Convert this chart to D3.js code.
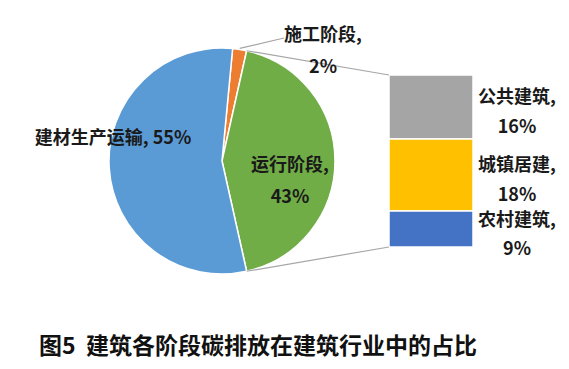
<!DOCTYPE html>
<html><head><meta charset="utf-8">
<script src="https://cdn.jsdelivr.net/npm/d3@7"></script>
<style>
html,body{margin:0;padding:0;background:#fff;}
svg{display:block;font-family:"Noto Sans CJK SC","Noto Sans",sans-serif;}
</style></head>
<body>
<svg id="c" width="569" height="369"></svg>
<script>
// ---- data ----
const pieCategories = ["施工阶段", "运行阶段", "建材生产运输"];
const pieValues = [2, 43, 55];
const pieColors = ["#ED7D31", "#70AD47", "#5B9BD5"];
const barCategories = ["公共建筑", "城镇居建", "农村建筑"];
const barValues = [16, 18, 9];
const barColors = ["#A5A5A5", "#FFC000", "#4472C4"];
const title = "图5  建筑各阶段碳排放在建筑行业中的占比";

const svg = d3.select("#c");
const cx = 222, cy = 161, r = 113;
const total = d3.sum(pieValues);
const splitIdx = 1; // slice expanded into the bar
// rotate so the split slice is centred facing the bar (right side)
const before = d3.sum(pieValues.slice(0, splitIdx));
const startA = Math.PI / 2 - (pieValues[splitIdx] / total) * Math.PI - (before / total) * 2 * Math.PI;

const pie = d3.pie().sort(null).value(d => d).startAngle(startA).endAngle(startA + 2 * Math.PI);
const arcs = pie(pieValues);
const arc = d3.arc().innerRadius(0).outerRadius(r);

const g = svg.append("g").attr("transform", `translate(${cx},${cy})`);
g.selectAll("path").data(arcs).join("path")
  .attr("d", arc)
  .attr("fill", (d, i) => pieColors[i])
  .attr("stroke", "#fff").attr("stroke-width", 1.5);

// bar (stacked)
const barX = 389, barW = 84, barTop = 75, barBottom = 247;
const y = d3.scaleLinear().domain([0, d3.sum(barValues)]).range([barTop, barBottom]);
const cum = d3.cumsum([0, ...barValues]);
svg.append("g").selectAll("rect").data(barValues).join("rect")
  .attr("x", barX).attr("width", barW)
  .attr("y", (d, i) => y(cum[i]))
  .attr("height", (d, i) => y(cum[i + 1]) - y(cum[i]))
  .attr("fill", (d, i) => barColors[i])
  .attr("stroke", "#fff").attr("stroke-width", 1.5);

// connector lines
const sa = arcs[splitIdx];
const pt = a => [cx + r * Math.sin(a), cy - r * Math.cos(a)];
const p1 = pt(sa.startAngle), p2 = pt(sa.endAngle);
svg.append("line").attr("x1", p1[0]).attr("y1", p1[1]).attr("x2", barX).attr("y2", barTop)
  .attr("stroke", "#A6A6A6").attr("stroke-width", 1.2);
svg.append("line").attr("x1", p2[0]).attr("y1", p2[1]).attr("x2", barX).attr("y2", barBottom)
  .attr("stroke", "#A6A6A6").attr("stroke-width", 1.2);

// leader for small slice
const a0 = arcs[0];
const lp = pt((a0.startAngle + a0.endAngle) / 2);
svg.append("line").attr("x1", lp[0]).attr("y1", lp[1] - 1).attr("x2", 284).attr("y2", 38)
  .attr("stroke", "#A6A6A6").attr("stroke-width", 1.2);

const txtColor = "#1a1a1a";
function label(x, yy, lines, dy) {
  const t = svg.append("text").attr("text-anchor", "middle").attr("font-size", 18)
    .attr("font-weight", "bold").attr("fill", txtColor);
  lines.forEach((s, i) => {
    t.append("tspan").attr("x", x).attr("y", yy + i * dy).attr("dominant-baseline", "central").text(s);
  });
}
label(323, 33, [pieCategories[0] + ",", pieValues[0] + "%"], 32);
label(290, 163, [pieCategories[1] + ",", pieValues[1] + "%"], 32);
svg.append("text").attr("x", 113).attr("y", 136).attr("text-anchor", "middle")
  .attr("dominant-baseline", "central").attr("font-size", 18).attr("font-weight", "bold")
  .attr("fill", txtColor).text(pieCategories[2] + ", " + pieValues[2] + "%");

const barLabelY = [95, 163, 218];
barCategories.forEach((c, i) => {
  label(517, barLabelY[i], [c + ",", barValues[i] + "%"], i === 2 ? 29 : 30);
});

svg.append("text").attr("x", 39).attr("y", 344).attr("dominant-baseline", "central")
  .attr("font-size", 23).attr("font-weight", "bold").attr("fill", "#111")
  .attr("xml:space", "preserve").style("white-space", "pre").text(title);
</script>
</body></html>
